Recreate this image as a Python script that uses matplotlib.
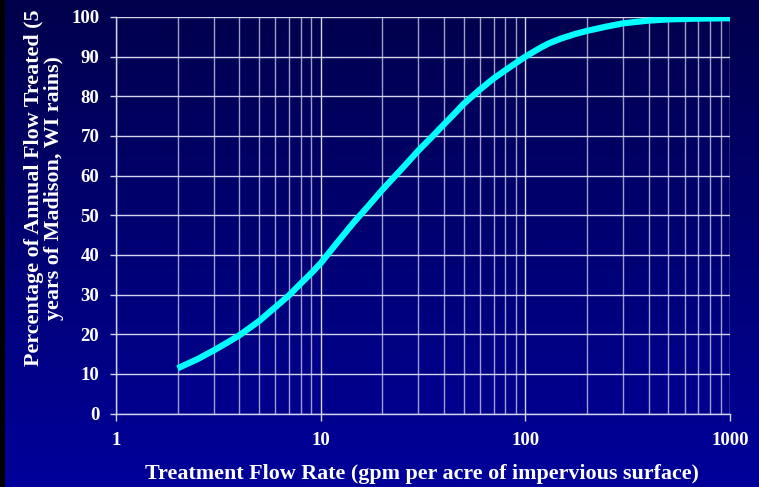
import matplotlib.pyplot as plt
import numpy as np
from matplotlib.colors import LinearSegmentedColormap
from matplotlib.patches import Rectangle

# flow rate (gpm per acre) vs percent of annual flow treated
flow = [2, 2.5, 3, 3.5, 4, 5, 6, 7, 8, 9, 10, 12, 14.4, 17, 20, 25, 30, 35,
        40, 45, 50, 60, 70, 80, 90, 100, 120, 131, 150, 175, 200, 250, 300,
        400, 500, 700, 1000]
pct = [11.4, 13.7, 15.9, 17.9, 19.7, 23.3, 26.8, 29.8, 32.8, 35.4, 37.9, 43.0,
       48.0, 52.2, 56.4, 61.8, 66.3, 69.8, 72.9, 75.6, 78.1, 81.7, 84.5, 86.6,
       88.4, 90.0, 92.4, 93.4, 94.6, 95.7, 96.5, 97.6, 98.4, 99.1, 99.4, 99.6,
       99.7]

yticks = list(range(0, 101, 10))
xticks = [1, 10, 100, 1000]

fig = plt.figure(figsize=(7.59, 4.87), dpi=100)

# gradient background
bg = fig.add_axes([0, 0, 1, 1], zorder=0)
grad = np.linspace(0, 1, 256).reshape(-1, 1)
cmap = LinearSegmentedColormap.from_list("bg", ["#00004c", "#00009a"])
bg.imshow(grad, aspect="auto", cmap=cmap, extent=[0, 1, 0, 1], origin="upper")
bg.axis("off")
fig.patches.append(Rectangle((0, 0), 5 / 759, 1, transform=fig.transFigure,
                             facecolor="black", edgecolor="none", zorder=1))

ax = fig.add_axes([116 / 759, 1 - 413.5 / 487, 614 / 759, 396.5 / 487], zorder=2)
ax.patch.set_alpha(0)
ax.set_xscale("log")
ax.set_xlim(1, 1000)
ax.set_ylim(0, 100)

ax.plot(flow, pct, color="#00ffff", lw=4.5, solid_capstyle="butt",
        solid_joinstyle="round", zorder=3)

gc = "#d4d4ec"
ax.grid(True, which="major", axis="both", color=gc, lw=1)
ax.grid(True, which="minor", axis="x", color=gc, lw=1, alpha=0.75)
ax.set_axisbelow(True)

for s in ["top", "right"]:
    ax.spines[s].set_visible(False)
for s in ["left", "bottom"]:
    ax.spines[s].set_color(gc)
    ax.spines[s].set_linewidth(1)

ax.set_xticks(xticks)
ax.set_xticklabels([str(v) for v in xticks])
ax.set_yticks(yticks)
ax.tick_params(which="minor", length=0)
ax.tick_params(axis="y", which="major", length=4, width=1, color=gc, pad=8)
ax.tick_params(axis="x", which="major", length=5, width=1, color=gc, pad=8)

for lab in ax.get_xticklabels() + ax.get_yticklabels():
    lab.set_fontfamily("Liberation Serif")
    lab.set_fontweight("bold")
    lab.set_fontsize(13.5)
    lab.set_color("white")

fig.text(422 / 759, 1 - 474 / 487, "Treatment Flow Rate (gpm per acre of impervious surface)",
         ha="center", va="center", color="white", fontsize=15.8,
         fontfamily="Liberation Serif", fontweight="bold")
fig.text(44 / 759, 1 - 188 / 487,
         "Percentage of Annual Flow Treated (5\nyears of Madison, WI rains)",
         ha="center", va="center", rotation=90, multialignment="center",
         color="white", fontsize=15.8, fontfamily="Liberation Serif",
         fontweight="bold", linespacing=1.0)

fig.savefig("out.png", dpi=100)
